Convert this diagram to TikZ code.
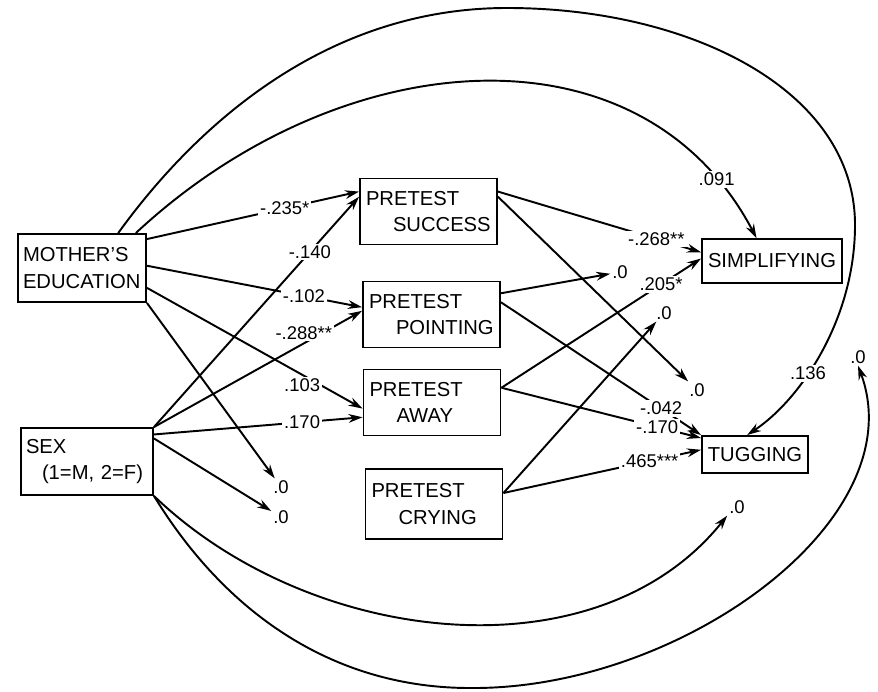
\documentclass[tikz,border=0pt]{standalone}
\usepackage{fontspec}
\setmainfont{Liberation Sans}
\usetikzlibrary{arrows.meta}
\tikzset{
  var/.style={draw, line width=1.1pt, align=left, inner ysep=0pt,
    font=\fontsize{11.5}{15.3}\selectfont},
  pretest/.style={var, minimum width=2.74cm, minimum height=1.32cm,
    inner xsep=0.12cm, text width=2.5cm},
  coef/.style={fill=white, inner sep=1pt, font=\fontsize{10.5}{12}\selectfont},
  zero/.style={inner sep=1pt, font=\fontsize{10.5}{12}\selectfont},
  eff/.style={line width=1.1pt, -{Stealth[length=8pt,width=5pt]}}
}
\begin{document}
\begin{tikzpicture}[x=0.02cm,y=-0.02cm]
\useasboundingbox (0,0) rectangle (878,692);
\node[var, minimum width=2.56cm, minimum height=1.36cm, inner xsep=0.1cm, text width=2.36cm] (moed) at (82,268) {MOTHER'S\\EDUCATION};
\node[var, minimum width=2.64cm, minimum height=1.34cm, inner xsep=0.1cm, text width=2.44cm] (sex) at (87,461.5) {SEX\\\hspace*{0.32cm}(1=M, 2=F)};
\node[pretest] (succ) at (428.5,211.5) {PRETEST\\\hspace*{0.54cm}SUCCESS};
\node[pretest] (point) at (431.5,314.5) {PRETEST\\\hspace*{0.54cm}POINTING};
\node[pretest] (away) at (432,402.5) {PRETEST\\\hspace*{0.54cm}AWAY};
\node[pretest, minimum height=1.4cm] (cry) at (434,504) {PRETEST\\\hspace*{0.54cm}CRYING};
\node[var, minimum width=2.8cm, minimum height=0.88cm] (simp) at (772,261) {SIMPLIFYING};
\node[var, minimum width=2.04cm, minimum height=0.74cm] (tug) at (755,454.5) {TUGGING};
% zero paths
\node[zero] (zme) at (281,487) {.0};
\node[zero] (zsex) at (281,517) {.0};
\node[zero] (zpt) at (620,272) {.0};
\node[zero] (zcry) at (664,313) {.0};
\node[zero] (zsucc) at (697,390) {.0};
\node[zero] (zsexa) at (737,507) {.0};
\node[zero] (zsexb) at (858,357) {.0};
% background variables
\draw[eff] (moed.24) -- node[coef, pos=0.65] {-.235*} (succ.164);
\draw[eff] (sex.north east) -- node[coef, pos=0.76] {-.140} (succ.168);
\draw[eff] (moed.2) -- node[coef, pos=0.73] {-.102} (point.174);
\draw[eff] (sex.north east) -- node[coef, pos=0.72, yshift=6] {-.288**} (point.177);
\draw[eff] (moed.-17) -- node[coef, pos=0.72, yshift=-6] {.103} (away.185);
\draw[eff] (sex.22) -- node[coef, pos=0.71] {.170} (away.192);
\draw[eff] (moed.south east) -- (zme);
\draw[eff] (sex.19) -- (zsex);
\draw[eff] (moed.33) .. controls (341,42) and (641,19) .. node[coef, pos=0.9] {.091} (simp.124);
\draw[eff] (moed.44) .. controls (200,120) and (330,8) .. (507,8)
  .. controls (690,8) and (855,90) .. (855,225)
  .. controls (855,320) and (800,400) .. node[coef, pos=0.6] {.136} (tug.112);
\draw[eff] (sex.south east) .. controls (310,646) and (596,679) .. (zsexa.south west);
\draw[eff] (sex.south east) .. controls (230,620) and (340,688) .. (470,688)
  .. controls (680,690) and (915,520) .. (zsexb.south);
% pretest variables
\draw[eff] (succ.16) -- node[coef, pos=0.78] {-.268**} (simp.173);
\draw[eff] (succ.12) -- (zsucc);
\draw[eff] (point.17) -- (zpt);
\draw[eff] (point.10) -- node[coef, pos=0.8] {-.042} (tug.north west);
\draw[eff] (away.12) -- node[coef, pos=0.8] {.205*} (simp.178);
\draw[eff] (away.12) -- node[coef, pos=0.78] {-.170} (tug.163);
\draw[eff] (cry.9) -- (zcry);
\draw[eff] (cry.9) -- node[coef, pos=0.74] {.465***} (tug.175);
\end{tikzpicture}
\end{document}
